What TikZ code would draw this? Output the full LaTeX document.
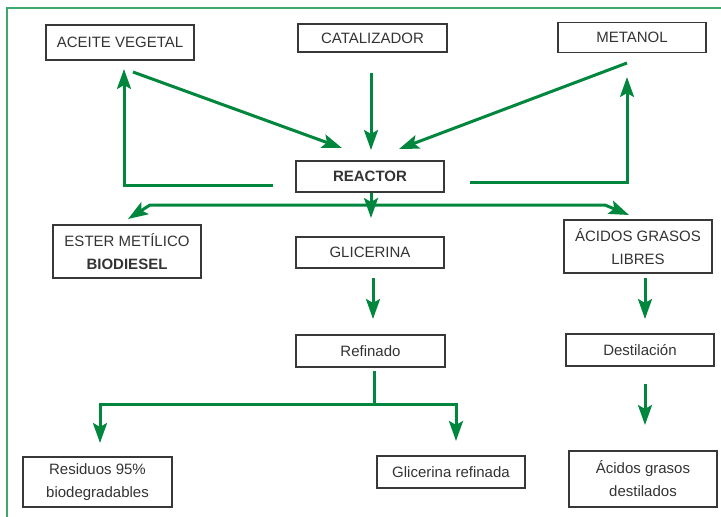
\documentclass[tikz,border=0pt]{standalone}
\usepackage{fontspec}
\setmainfont{Liberation Sans}
\usetikzlibrary{arrows.meta}
\definecolor{framegreen}{HTML}{3DA86B}
\definecolor{arrgreen}{HTML}{00873D}
\definecolor{boxgray}{HTML}{383838}
\definecolor{txtgray}{HTML}{333333}
\tikzset{
  stepbox/.style={draw=boxgray, line width=1.4pt, rectangle, inner sep=0pt,
    minimum width=148pt, text=txtgray, align=center,
    font=\fontsize{15pt}{23pt}\selectfont},
  flowtip/.tip={Stealth[length=20pt,width=14pt,inset=4pt]},
  flow/.style={draw=arrgreen, line width=3pt, -flowtip},
  flowline/.style={draw=arrgreen, line width=3pt},
  frameline/.style={draw=framegreen, line width=1.5pt}
}
\begin{document}
\begin{tikzpicture}[x=1pt,y=-1pt]
\useasboundingbox (0,0) rectangle (721,517);
% frame
\coordinate (fa) at (721,8);
\coordinate (fb) at (7,8);
\coordinate (fc) at (7,517);
\draw[frameline] (fa) -- (fb) -- (fc);
% boxes
\node[stepbox, minimum height=35pt] (aceite) at (120,42.5) {ACEITE VEGETAL};
\node[stepbox, minimum height=28pt, minimum width=149pt] (catal) at (372.5,38) {CATALIZADOR};
\node[stepbox, minimum height=30pt] (metanol) at (632,37.5) {METANOL};
\node[stepbox, minimum height=31pt] (reactor) at (370,176.5) {\bfseries REACTOR};
\node[stepbox, minimum height=53pt] (ester) at (127,251.5) {ESTER METÍLICO\\\bfseries BIODIESEL};
\node[stepbox, minimum height=31pt] (glic) at (370,252.5) {GLICERINA};
\node[stepbox, minimum height=53pt] (acidos) at (638,246.5) {ÁCIDOS GRASOS\\LIBRES};
\node[stepbox, minimum height=32pt, minimum width=149pt] (refinado) at (370.5,351) {Refinado};
\node[stepbox, minimum height=32pt] (destil) at (640,350) {Destilación};
\node[stepbox, minimum height=50pt, minimum width=149pt] (residuos) at (97.5,482) {Residuos 95\%\\biodegradables};
\node[stepbox, minimum height=32pt] (glicref) at (451,472) {Glicerina refinada};
\node[stepbox, minimum height=56pt] (acdest) at (643,479) {Ácidos grasos\\destilados};
% connector end points
\coordinate (a1) at (133,72);   \coordinate (a2) at (342,148);
\coordinate (c1) at (371,73);   \coordinate (c2) at (371,150);
\coordinate (m1) at (627,63);   \coordinate (m2) at (399,149);
\coordinate (l1) at (273,185);  \coordinate (l2) at (124,185);  \coordinate (l3) at (124,69);
\coordinate (r1) at (470,182);  \coordinate (r2) at (627,182);  \coordinate (r3) at (627,77);
\coordinate (h1) at (128,219);  \coordinate (h2) at (150,205);
\coordinate (h3) at (605,205);  \coordinate (h4) at (629,215);
\coordinate (d1) at (371,193);  \coordinate (d2) at (371,218);
\coordinate (g1) at (373,278);  \coordinate (g2) at (373,319);
\coordinate (s1) at (374,371);  \coordinate (s2) at (374,404);
\coordinate (s3) at (100,404);  \coordinate (s4) at (100,443);
\coordinate (s5) at (456,404);  \coordinate (s6) at (456,441);
\coordinate (x1) at (645,278);  \coordinate (x2) at (645,319);
\coordinate (y1) at (645,384);  \coordinate (y2) at (645,425);
% connectors
\draw[flow] (a1) -- (a2);
\draw[flow] (c1) -- (c2);
\draw[flow] (m1) -- (m2);
\draw[flow] (l1) -- (l2) -- (l3);
\draw[flow] (r1) -- (r2) -- (r3);
\draw[flow, flowtip-flowtip] (h1) -- (h2) -- (h3) -- (h4);
\draw[flow] (d1) -- (d2);
\draw[flow] (g1) -- (g2);
\draw[flowline] (s1) -- (s2);
\draw[flow] (s2) -- (s3) -- (s4);
\draw[flow] (s2) -- (s5) -- (s6);
\draw[flow] (x1) -- (x2);
\draw[flow] (y1) -- (y2);
\end{tikzpicture}
\end{document}
